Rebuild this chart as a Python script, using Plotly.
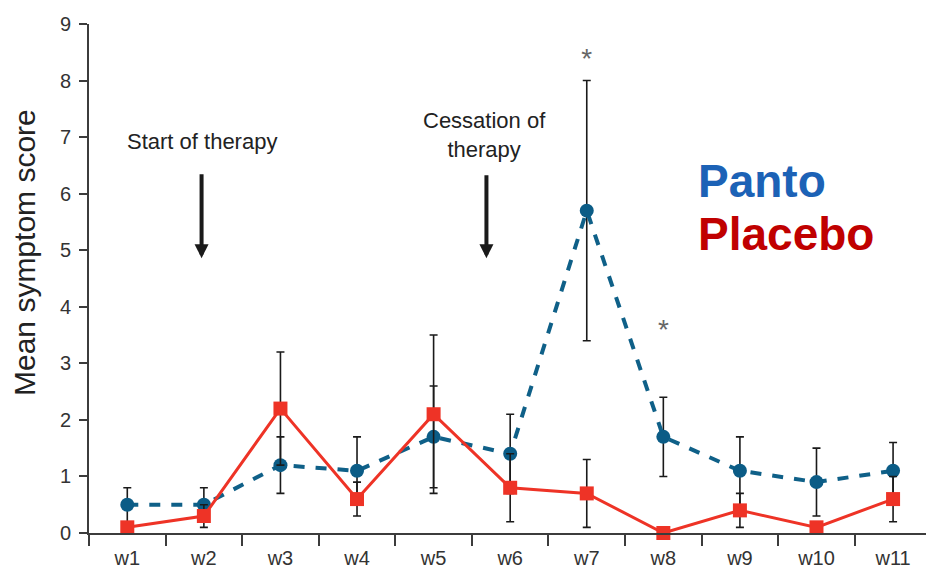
import plotly.graph_objects as go

# Weekly mean symptom scores with error bars
weeks = ["w1", "w2", "w3", "w4", "w5", "w6", "w7", "w8", "w9", "w10", "w11"]
panto_mean = [0.5, 0.5, 1.2, 1.1, 1.7, 1.4, 5.7, 1.7, 1.1, 0.9, 1.1]
panto_err = [0.3, 0.3, 0.5, 0.6, 0.9, 0.7, 2.3, 0.7, 0.6, 0.6, 0.5]
placebo_mean = [0.1, 0.3, 2.2, 0.6, 2.1, 0.8, 0.7, 0.0, 0.4, 0.1, 0.6]
placebo_err = [0.0, 0.2, 1.0, 0.3, 1.4, 0.6, 0.6, 0.0, 0.3, 0.0, 0.4]

# Significance markers (week, height)
sig_weeks = ["w7", "w8"]
sig_y = [8.35, 3.55]

FONT = "Liberation Sans, Arial, sans-serif"
AXIS_COLOR = "#3c3c3c"

fig = go.Figure()

fig.add_trace(go.Scatter(
    x=weeks, y=panto_mean, name="Panto", mode="lines+markers",
    line=dict(color="#0f6088", width=4, dash="11px,11px"),
    marker=dict(symbol="circle", size=14, color="#0b5c86"),
    error_y=dict(type="data", array=panto_err, color="#1a1a1a",
                 thickness=1.6, width=4),
    cliponaxis=False,
))

fig.add_trace(go.Scatter(
    x=weeks, y=placebo_mean, name="Placebo", mode="lines+markers",
    line=dict(color="#ee3326", width=3),
    marker=dict(symbol="square", size=14, color="#ee3326"),
    error_y=dict(type="data", array=placebo_err, color="#1a1a1a",
                 thickness=1.6, width=4),
    cliponaxis=False,
))

fig.add_trace(go.Scatter(
    x=sig_weeks, y=sig_y, mode="text", text=["*", "*"],
    textfont=dict(family=FONT, size=28, color="#666666"),
    showlegend=False, cliponaxis=False,
))

annotations = [
    # y axis title
    dict(xref="paper", yref="paper", x=-0.0777, y=0.552,
         text="Mean symptom score", textangle=-90, showarrow=False,
         xanchor="center", yanchor="middle",
         font=dict(family=FONT, size=30, color="#222222")),
    # therapy markers
    dict(x=0.97, y=6.93, text="Start of therapy", showarrow=False,
         font=dict(family=FONT, size=22, color="#222222")),
    dict(x=0.97, y=4.86, ax=0.97, ay=6.37, axref="x", ayref="y",
         showarrow=True, arrowhead=2, arrowsize=0.7, arrowwidth=4,
         arrowcolor="#1a1a1a", text=""),
    dict(x=4.67, y=7.03, text="Cessation of<br>therapy", showarrow=False,
         font=dict(family=FONT, size=22, color="#222222")),
    dict(x=4.69, y=4.86, ax=4.69, ay=6.35, axref="x", ayref="y",
         showarrow=True, arrowhead=2, arrowsize=0.7, arrowwidth=4,
         arrowcolor="#1a1a1a", text=""),
    # series labels
    dict(x=7.42, y=6.22, text="<b>Panto</b>", showarrow=False,
         xanchor="left", yanchor="middle",
         font=dict(family=FONT, size=46, color="#1c62b6")),
    dict(x=7.42, y=5.28, text="<b>Placebo</b>", showarrow=False,
         xanchor="left", yanchor="middle",
         font=dict(family=FONT, size=46, color="#c00000")),
]

fig.update_layout(
    width=926, height=572,
    margin=dict(l=89, r=0, t=24, b=39),
    plot_bgcolor="white", paper_bgcolor="white",
    showlegend=False,
    font=dict(family=FONT, size=20, color="#333333"),
    annotations=annotations,
    xaxis=dict(
        type="category", categoryorder="array", categoryarray=weeks,
        range=[-0.5, 10.43], tickson="boundaries",
        showline=True, linecolor=AXIS_COLOR, linewidth=1.6,
        ticks="outside", ticklen=11, tickwidth=1.6, tickcolor=AXIS_COLOR,
        ticklabelstandoff=6,
        showgrid=False, zeroline=False,
        tickfont=dict(size=20, color="#333333"),
    ),
    yaxis=dict(
        range=[0, 9], tickvals=list(range(10)),
        showline=True, linecolor=AXIS_COLOR, linewidth=1.6,
        ticks="outside", ticklen=8, tickwidth=1.6, tickcolor=AXIS_COLOR,
        ticklabelstandoff=4,
        showgrid=False, zeroline=False,
        tickfont=dict(size=20, color="#333333"),
        automargin=False,
    ),
)

fig.write_html("out.html")
